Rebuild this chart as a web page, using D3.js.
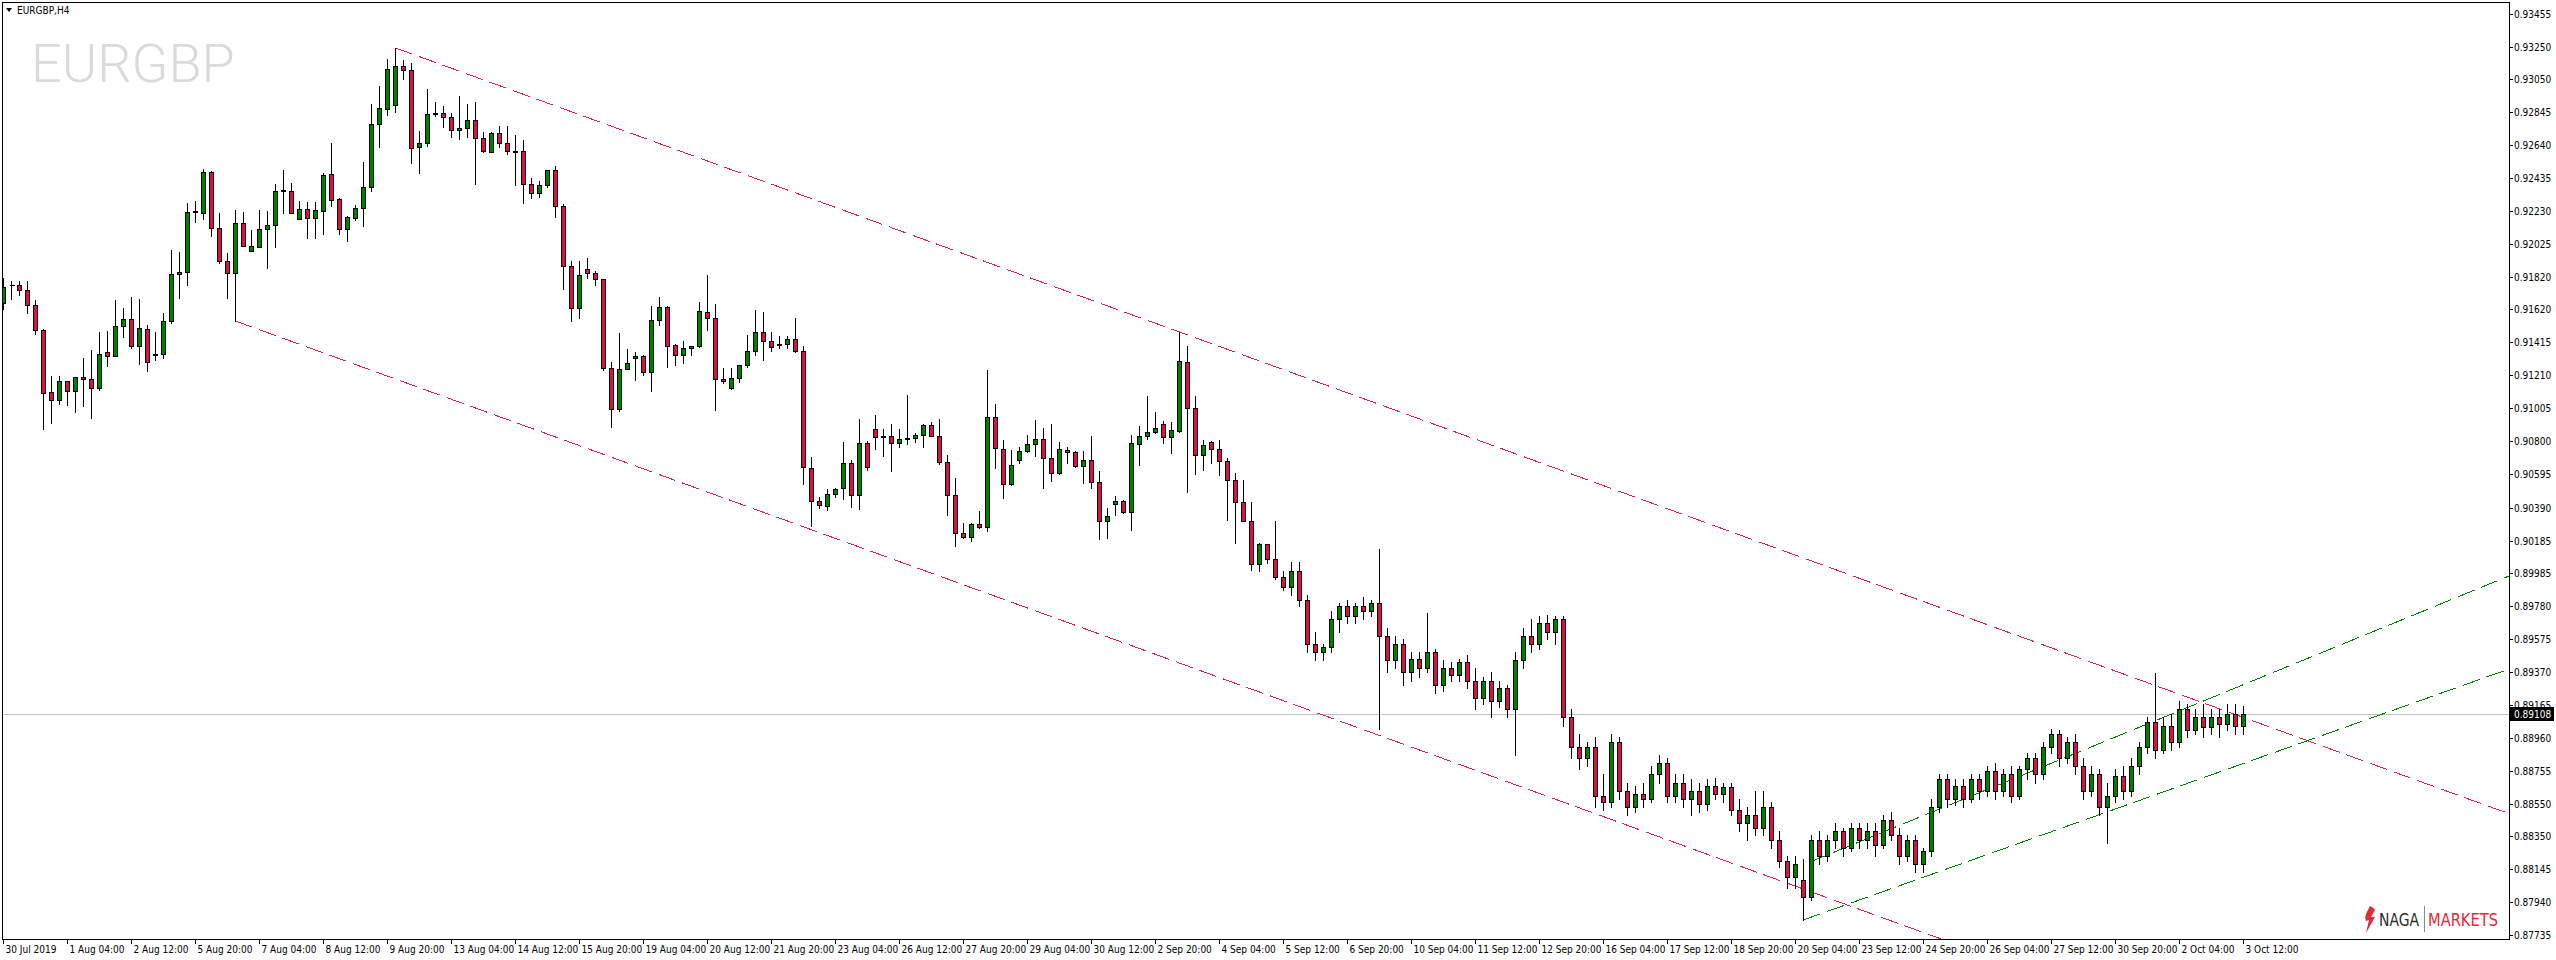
<!DOCTYPE html>
<html><head><meta charset="utf-8">
<script src="https://d3js.org/d3.v7.min.js"></script>
<style>
html,body{margin:0;padding:0;background:#fff;}
svg{display:block;}
text{font-family:"DejaVu Sans Condensed","Liberation Sans",sans-serif;}
</style></head><body>
<svg id="chart" width="2556" height="960"></svg>
<script>
const symbolLabel = "EURGBP,H4";
const watermark = "EURGBP";
const opens = [.91660,.91772,.91772,.91741,.91648,.91492,.91107,.91058,.91176,.91114,.91200,.91188,.91132,.91356,.91331,.91517,.91561,.91393,.91499,.91343,
.91343,.91548,.91840,.91853,.92225,.92219,.92474,.92126,.91921,.91846,.92157,.91983,.92008,.92120,.92145,.92356,.92356,.92182,.92244,.92188,
.92231,.92461,.92306,.92120,.92188,.92250,.92380,.92772,.92865,.92890,.93132,.93107,.92629,.92654,.92834,.92840,.92815,.92735,.92747,.92797,
.92685,.92598,.92716,.92654,.92604,.92604,.92399,.92343,.92393,.92486,.92263,.91890,.91629,.91871,.91846,.91809,.91257,.91002,.91250,.91319,
.91331,.91232,.91555,.91635,.91399,.91337,.91380,.91393,.91604,.91567,.91188,.91132,.91194,.91275,.91362,.91480,.91424,.91406,.91406,.91437,
.91362,.90636,.90430,.90400,.90474,.90511,.90667,.90468,.90791,.90878,.90834,.90834,.90791,.90816,.90822,.90840,.90903,.90834,.90673,.90468,
.90231,.90207,.90287,.90269,.90952,.90753,.90536,.90685,.90741,.90785,.90816,.90698,.90605,.90747,.90735,.90649,.90685,.90549,.90306,.90412,
.90430,.90362,.90785,.90834,.90859,.90909,.90828,.90865,.91294,.91008,.90716,.90797,.90753,.90679,.90561,.90424,.90306,.90039,.90163,.90070,
.89958,.89897,.89998,.89816,.89542,.89492,.89522,.89695,.89776,.89715,.89776,.89745,.89796,.89593,.89441,.89542,.89371,.89452,.89391,.89492,
.89290,.89391,.89350,.89431,.89310,.89209,.89310,.89188,.89270,.89137,.89441,.89593,.89542,.89675,.89614,.89695,.89087,.88905,.88834,.88905,
.88601,.88561,.88935,.88632,.88530,.88611,.88581,.88733,.88804,.88601,.88682,.88581,.88632,.88551,.88662,.88611,.88652,.88510,.88429,.88480,
.88399,.88530,.88327,.88196,.88095,.88075,.87974,.88327,.88226,.88327,.88378,.88277,.88399,.88327,.88378,.88297,.88449,.88358,.88226,.88327,
.88176,.88257,.88530,.88702,.88581,.88662,.88581,.88702,.88632,.88753,.88632,.88733,.88601,.88763,.88834,.88733,.88905,.88986,.88834,.88935,
.88783,.88632,.88733,.88530,.88601,.88723,.88632,.88783,.88905,.89057,.88885,.89036,.88935,.89137,.89006,.89087,.89026,.89087,.89047,.89107,.89036];
const highs = [.91815,.91797,.91797,.91797,.91679,.91499,.91207,.91207,.91176,.91200,.91319,.91368,.91480,.91486,.91679,.91629,.91697,.91685,.91523,.91480,
.91598,.91989,.91977,.92281,.92294,.92492,.92480,.92219,.91971,.92238,.92225,.92114,.92238,.92231,.92399,.92486,.92405,.92294,.92287,.92287,
.92468,.92654,.92312,.92200,.92269,.92536,.92896,.93008,.93176,.93244,.93169,.93151,.92728,.92989,.92909,.92884,.92840,.92946,.92896,.92909,
.92722,.92722,.92760,.92760,.92704,.92672,.92437,.92418,.92486,.92511,.92275,.91921,.91921,.91940,.91859,.91809,.91294,.91474,.91374,.91356,
.91337,.91641,.91697,.91641,.91406,.91424,.91393,.91667,.91834,.91654,.91257,.91257,.91275,.91462,.91617,.91604,.91480,.91455,.91455,.91567,
.91393,.90704,.90455,.90505,.90511,.90797,.90685,.90940,.90803,.90965,.90878,.90909,.90878,.91089,.90853,.90909,.90921,.90940,.90716,.90574,
.90294,.90294,.90368,.91244,.91033,.90809,.90747,.90766,.90840,.90934,.90884,.90909,.90797,.90766,.90741,.90741,.90834,.90617,.90387,.90461,
.90437,.90840,.90896,.91082,.90983,.90927,.90921,.91480,.91393,.91082,.90809,.90803,.90809,.90698,.90605,.90561,.90424,.90170,.90163,.90306,
.89998,.90049,.90049,.89846,.89614,.89542,.89745,.89796,.89816,.89796,.89836,.89816,.90130,.89644,.89593,.89573,.89492,.89492,.89735,.89512,
.89441,.89431,.89452,.89472,.89391,.89340,.89371,.89310,.89290,.89492,.89644,.89695,.89715,.89725,.89715,.89715,.89137,.88986,.88935,.88966,
.88733,.88986,.88966,.88682,.88662,.88682,.88783,.88855,.88834,.88733,.88733,.88702,.88682,.88702,.88713,.88682,.88682,.88581,.88530,.88632,
.88632,.88561,.88378,.88226,.88226,.88206,.88358,.88378,.88358,.88429,.88399,.88429,.88429,.88429,.88429,.88480,.88500,.88399,.88358,.88358,
.88277,.88581,.88733,.88733,.88702,.88702,.88733,.88733,.88783,.88804,.88763,.88783,.88783,.88865,.88865,.88935,.89016,.89006,.88966,.88986,
.88834,.88783,.88763,.88682,.88763,.88783,.88834,.88935,.89087,.89361,.89087,.89107,.89188,.89168,.89137,.89168,.89137,.89137,.89168,.89168,.89158];
const lows = [.91623,.91685,.91710,.91598,.91468,.90878,.90915,.91033,.91027,.90983,.91020,.90946,.91120,.91269,.91331,.91449,.91380,.91281,.91238,.91306,
.91319,.91536,.91691,.91772,.92163,.92182,.92076,.91909,.91691,.91548,.92014,.91983,.92008,.91877,.92008,.92219,.92219,.92182,.92064,.92064,
.92089,.92263,.92089,.92045,.92176,.92138,.92356,.92628,.92828,.92846,.93051,.92530,.92468,.92635,.92822,.92753,.92691,.92679,.92691,.92399,
.92598,.92598,.92629,.92586,.92393,.92281,.92312,.92319,.92380,.92194,.91747,.91548,.91567,.91815,.91772,.91244,.90890,.90989,.91250,.91182,
.91213,.91114,.91523,.91263,.91275,.91288,.91337,.91387,.91492,.90996,.91163,.91126,.91169,.91263,.91337,.91306,.91362,.91380,.91380,.91356,
.90536,.90275,.90387,.90375,.90455,.90443,.90393,.90381,.90623,.90753,.90710,.90617,.90766,.90785,.90797,.90766,.90834,.90660,.90344,.90151,
.90200,.90182,.90262,.90244,.90636,.90449,.90530,.90667,.90735,.90710,.90511,.90555,.90598,.90667,.90642,.90542,.90511,.90194,.90200,.90344,
.90356,.90250,.90654,.90816,.90853,.90791,.90729,.90859,.90486,.90598,.90623,.90667,.90592,.90312,.90170,.90306,.90002,.89996,.90046,.89946,
.89877,.89846,.89776,.89492,.89441,.89441,.89492,.89614,.89675,.89675,.89695,.89715,.89016,.89371,.89391,.89290,.89310,.89340,.89371,.89239,
.89250,.89310,.89310,.89270,.89137,.89168,.89087,.89148,.89087,.88855,.89391,.89492,.89512,.89573,.89542,.89036,.88834,.88763,.88783,.88530,
.88510,.88530,.88581,.88480,.88500,.88530,.88561,.88682,.88561,.88561,.88530,.88480,.88500,.88510,.88581,.88561,.88480,.88378,.88327,.88358,
.88358,.88277,.88156,.88024,.88024,.87829,.87950,.88176,.88196,.88277,.88226,.88257,.88277,.88277,.88226,.88277,.88327,.88176,.88196,.88125,
.88125,.88226,.88500,.88530,.88540,.88530,.88561,.88581,.88601,.88581,.88601,.88561,.88581,.88702,.88682,.88702,.88865,.88783,.88804,.88733,
.88581,.88601,.88480,.88307,.88561,.88581,.88601,.88733,.88865,.88834,.88865,.88885,.88905,.88966,.88986,.88966,.88986,.88966,.89006,.88986,.88986];
const closes = [.91759,.91770,.91741,.91648,.91492,.91101,.91058,.91176,.91114,.91200,.91188,.91132,.91343,.91331,.91517,.91561,.91393,.91505,.91294,.91337,
.91548,.91840,.91853,.92225,.92229,.92474,.92126,.91921,.91846,.92157,.92014,.92014,.92120,.92145,.92356,.92360,.92219,.92244,.92188,.92238,
.92455,.92300,.92120,.92194,.92250,.92380,.92772,.92871,.93114,.93132,.93107,.92623,.92654,.92834,.92840,.92815,.92735,.92747,.92797,.92685,
.92604,.92716,.92654,.92604,.92598,.92399,.92343,.92393,.92486,.92263,.91890,.91629,.91834,.91846,.91809,.91257,.91002,.91250,.91288,.91331,
.91232,.91555,.91635,.91393,.91337,.91380,.91393,.91610,.91567,.91188,.91176,.91194,.91275,.91362,.91480,.91424,.91387,.91399,.91437,.91362,
.90642,.90430,.90406,.90474,.90505,.90667,.90468,.90791,.90642,.90828,.90828,.90791,.90816,.90822,.90840,.90903,.90834,.90673,.90468,.90231,
.90207,.90287,.90269,.90952,.90760,.90536,.90654,.90741,.90785,.90816,.90698,.90605,.90753,.90735,.90649,.90685,.90549,.90306,.90337,.90430,
.90362,.90791,.90834,.90859,.90884,.90828,.90871,.91300,.91008,.90716,.90778,.90753,.90679,.90561,.90424,.90306,.90039,.90163,.90070,.89958,
.89897,.89998,.89816,.89542,.89492,.89522,.89695,.89776,.89715,.89776,.89745,.89796,.89593,.89441,.89542,.89371,.89452,.89391,.89492,.89290,
.89391,.89350,.89431,.89310,.89209,.89310,.89188,.89270,.89137,.89441,.89593,.89542,.89675,.89614,.89695,.89087,.88905,.88834,.88905,.88601,
.88561,.88935,.88632,.88530,.88611,.88581,.88733,.88804,.88601,.88682,.88581,.88632,.88551,.88662,.88611,.88652,.88510,.88429,.88480,.88399,
.88530,.88327,.88196,.88095,.88176,.87974,.88327,.88226,.88327,.88378,.88277,.88399,.88327,.88378,.88297,.88449,.88358,.88226,.88327,.88176,
.88257,.88530,.88702,.88581,.88662,.88581,.88702,.88632,.88753,.88632,.88733,.88601,.88763,.88834,.88733,.88905,.88986,.88834,.88935,.88783,
.88632,.88733,.88530,.88601,.88723,.88632,.88783,.88905,.89057,.88885,.89036,.88935,.89137,.89006,.89087,.89026,.89087,.89047,.89107,.89036,.89108];

const xTickLabels = ["30 Jul 2019","1 Aug 04:00","2 Aug 12:00","5 Aug 20:00","7 Aug 04:00","8 Aug 12:00","9 Aug 20:00","13 Aug 04:00","14 Aug 12:00","15 Aug 20:00",
"19 Aug 04:00","20 Aug 12:00","21 Aug 20:00","23 Aug 04:00","26 Aug 12:00","27 Aug 20:00","29 Aug 04:00","30 Aug 12:00","2 Sep 20:00","4 Sep 04:00",
"5 Sep 12:00","6 Sep 20:00","10 Sep 04:00","11 Sep 12:00","12 Sep 20:00","16 Sep 04:00","17 Sep 12:00","18 Sep 20:00","20 Sep 04:00","23 Sep 12:00",
"24 Sep 20:00","26 Sep 04:00","27 Sep 12:00","30 Sep 20:00","2 Oct 04:00","3 Oct 12:00"];
const barsPerXTick = 8;
const yTickValues = [0.93455,0.93250,0.93050,0.92845,0.92640,0.92435,0.92230,0.92025,0.91820,0.91620,0.91415,0.91210,0.91005,0.90800,0.90595,
0.90390,0.90185,0.89985,0.89780,0.89575,0.89370,0.89165,0.88960,0.88755,0.88550,0.88350,0.88145,0.87940,0.87735];
const currentPrice = 0.89108;

// trend objects (anchor bar index, price)
const redChannelTop = [{bar:49, price:0.93244},{bar:147, price:0.91480}];
const redChannelBottomAnchor = {bar:29, price:0.91548};
const greenUpper = [{bar:225.8, price:0.88188},{bar:313.2, price:0.89965}];
const greenLower = [{bar:225, price:0.87829},{bar:313.2, price:0.89387}];

const W = 2556, H = 960;
const plot = {left:2, top:2, right:2509, bottom:939};
const svg = d3.select("#chart");

const x = d3.scaleLinear().domain([0, 313]).range([3.5, 3.5 + 8*313]);
const y = d3.scaleLinear().domain([0.87735, 0.93455]).range([935, 14]);

svg.append("rect").attr("width",W).attr("height",H).attr("fill","#fff");
const defs = svg.append("defs");
defs.append("clipPath").attr("id","clip").append("rect")
  .attr("x",plot.left).attr("y",plot.top).attr("width",plot.right-plot.left).attr("height",plot.bottom-plot.top);

const FS = 10;

// watermark
svg.append("text").attr("x",31).attr("y",82).text(watermark)
  .style("font-family","Roboto, 'Liberation Sans', sans-serif").style("font-weight",300)
  .attr("font-size",54).attr("fill","#dadada");

// symbol label
svg.append("path").attr("d","M6,8 L12,8 L9,12 Z").attr("fill","#000");
svg.append("text").attr("x",17).attr("y",14).attr("font-size",FS).attr("fill","#000").text(symbolLabel);

const g = svg.append("g").attr("clip-path","url(#clip)");

// current price line
g.append("line").attr("x1",plot.left).attr("x2",plot.right)
  .attr("y1",Math.round(y(currentPrice))+0.5).attr("y2",Math.round(y(currentPrice))+0.5)
  .attr("stroke","#c0c0c0").attr("stroke-width",1).attr("shape-rendering","crispEdges");

// trend lines
const xEndBar = x.invert(plot.right);
function rayFrom(p1, slope, color){
  const p2price = p1.price + slope*(xEndBar - p1.bar);
  g.append("line")
   .attr("x1",x(p1.bar)).attr("y1",y(p1.price))
   .attr("x2",x(xEndBar)).attr("y2",y(p2price))
   .attr("stroke",color).attr("stroke-width",1).attr("stroke-dasharray","18,7")
   .attr("shape-rendering","crispEdges");
}
const redSlope = (redChannelTop[1].price-redChannelTop[0].price)/(redChannelTop[1].bar-redChannelTop[0].bar);
rayFrom(redChannelTop[0], redSlope, "#e0204f");
rayFrom(redChannelBottomAnchor, redSlope, "#e0204f");
const gU = (greenUpper[1].price-greenUpper[0].price)/(greenUpper[1].bar-greenUpper[0].bar);
const gL = (greenLower[1].price-greenLower[0].price)/(greenLower[1].bar-greenLower[0].bar);
rayFrom(greenUpper[0], gU, "#008000");
rayFrom(greenLower[0], gL, "#008000");

// candles
const bars = opens.map((o,i)=>({i, o, h:highs[i], l:lows[i], c:closes[i]}));
const cg = g.append("g").attr("shape-rendering","crispEdges");
bars.forEach(b=>{
  const cx = Math.floor(x(b.i)) + 0.5;
  const yh = Math.round(y(b.h)), yl = Math.round(y(b.l));
  cg.append("line").attr("x1",cx).attr("x2",cx).attr("y1",yh).attr("y2",yl+1)
    .attr("stroke","#000").attr("stroke-width",1);
  const yo = Math.round(y(b.o)), yc = Math.round(y(b.c));
  const top = Math.min(yo,yc), bot = Math.max(yo,yc);
  if (bot - top < 1){
    cg.append("line").attr("x1",cx-2).attr("x2",cx+3).attr("y1",top+0.5).attr("y2",top+0.5)
      .attr("stroke","#000").attr("stroke-width",1);
  } else {
    cg.append("rect").attr("x",cx-2).attr("y",top+0.5).attr("width",4).attr("height",bot-top)
      .attr("fill", b.c > b.o ? "#008000" : "#dc143c").attr("stroke","#000").attr("stroke-width",1);
  }
});

// frame
const fr = svg.append("g").attr("shape-rendering","crispEdges").attr("stroke","#000").attr("stroke-width",1);
fr.append("line").attr("x1",plot.left+0.5).attr("x2",plot.left+0.5).attr("y1",plot.top).attr("y2",plot.bottom+1);
fr.append("line").attr("x1",plot.left).attr("x2",plot.right+1).attr("y1",plot.top+0.5).attr("y2",plot.top+0.5);
fr.append("line").attr("x1",plot.right+0.5).attr("x2",plot.right+0.5).attr("y1",plot.top).attr("y2",plot.bottom+1);
fr.append("line").attr("x1",plot.left).attr("x2",plot.right+1).attr("y1",plot.bottom+0.5).attr("y2",plot.bottom+0.5);

// y axis
const ya = svg.append("g");
yTickValues.forEach(v=>{
  const yy = Math.round(y(v))+0.5;
  ya.append("line").attr("x1",plot.right).attr("x2",plot.right+4).attr("y1",yy).attr("y2",yy)
    .attr("stroke","#000").attr("shape-rendering","crispEdges");
  ya.append("text").attr("x",plot.right+5).attr("y",yy).attr("dy","0.35em")
    .attr("font-size",FS).attr("fill","#000").text(d3.format(".5f")(v));
});
// current price tag
const cpY = Math.round(y(currentPrice));
svg.append("rect").attr("x",plot.right+1).attr("y",cpY-7).attr("width",44).attr("height",14).attr("fill","#000");
svg.append("text").attr("x",plot.right+5).attr("y",cpY+0.5).attr("dy","0.35em").attr("font-size",FS)
  .attr("fill","#fff").text(d3.format(".5f")(currentPrice));

// x axis
const xa = svg.append("g");
xTickLabels.forEach((lab,k)=>{
  const xx = Math.floor(x(k*barsPerXTick))+0.5;
  xa.append("line").attr("x1",xx).attr("x2",xx).attr("y1",plot.bottom).attr("y2",plot.bottom+5)
    .attr("stroke","#000").attr("shape-rendering","crispEdges");
  xa.append("text").attr("x",xx+2).attr("y",953).attr("font-size",FS).attr("fill","#000").text(lab);
});

// logo
const logo = svg.append("g");
logo.append("path").attr("d","M2370,906 C2367,912 2364,916 2366,921 L2369,920 L2366,933 L2375,917 L2371,917 L2375,910 C2374,908 2372,907 2370,906 Z")
  .attr("fill","#e5283a");
logo.append("text").attr("x",2379).attr("y",926).attr("font-size",18).attr("fill","#2b2b2b")
  .attr("textLength",40).attr("lengthAdjust","spacingAndGlyphs").text("NAGA");
logo.append("line").attr("x1",2424.5).attr("x2",2424.5).attr("y1",906).attr("y2",932).attr("stroke","#888");
logo.append("text").attr("x",2428).attr("y",926).attr("font-size",18).attr("fill","#e5283a")
  .attr("textLength",70).attr("lengthAdjust","spacingAndGlyphs").text("MARKETS");
</script>
</body></html>
